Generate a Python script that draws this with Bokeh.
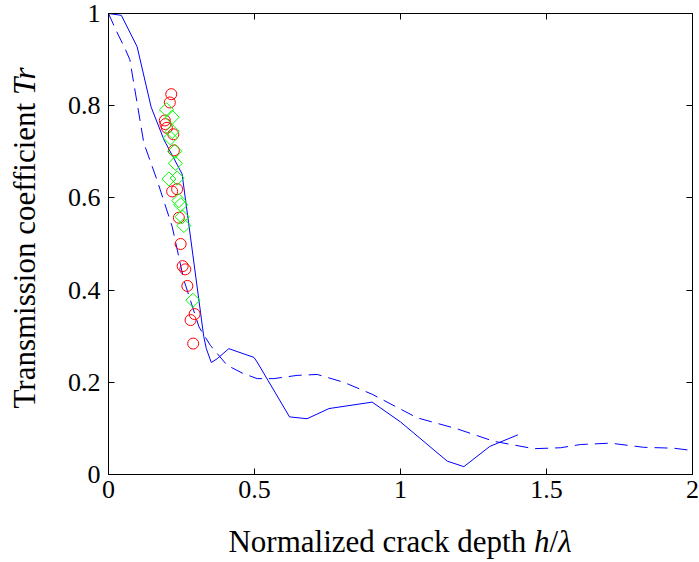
import numpy as np
from bokeh.plotting import figure
from bokeh.models import Range1d, LinearAxis, FixedTicker, Div
from bokeh.layouts import row, column
from bokeh.embed import file_html
from bokeh.resources import INLINE

# Solid curve (simulation A)
solid_x = [0.0, 0.044, 0.098, 0.146, 0.19, 0.252, 0.326, 0.335, 0.352, 0.372, 0.412,
           0.498, 0.509, 0.62, 0.68, 0.755, 0.903, 1.0, 1.16, 1.217, 1.306, 1.402]
solid_y = [1.0, 0.996, 0.928, 0.797, 0.726, 0.652, 0.30, 0.273, 0.243, 0.251, 0.273,
           0.254, 0.244, 0.125, 0.121, 0.143, 0.157, 0.114, 0.029, 0.017, 0.061, 0.086]

# Dashed curve (simulation B)
dash_x = [0.0, 0.027, 0.058, 0.073, 0.121, 0.166, 0.218, 0.258, 0.31, 0.349, 0.406,
          0.458, 0.509, 0.566, 0.646, 0.715, 0.806, 0.903, 1.057, 1.194, 1.32, 1.456,
          1.548, 1.616, 1.719, 1.833, 1.936, 2.0]
dash_y = [1.0, 0.962, 0.922, 0.9, 0.719, 0.639, 0.538, 0.422, 0.32, 0.28, 0.237,
          0.22, 0.208, 0.208, 0.215, 0.217, 0.2, 0.174, 0.123, 0.099, 0.072, 0.056,
          0.058, 0.065, 0.068, 0.059, 0.057, 0.052]

# Experimental points (circles)
circ_x = [0.215, 0.21, 0.193, 0.195, 0.2, 0.222, 0.224, 0.218, 0.235, 0.241, 0.247,
          0.254, 0.263, 0.27, 0.295, 0.281, 0.29]
circ_y = [0.825, 0.807, 0.768, 0.76, 0.752, 0.738, 0.703, 0.614, 0.619, 0.557, 0.5,
          0.452, 0.445, 0.409, 0.348, 0.335, 0.284]

# Experimental points (diamonds)
diam_x = [0.199, 0.218, 0.218, 0.212, 0.227, 0.229, 0.207, 0.235, 0.241, 0.247,
          0.252, 0.258, 0.289]
diam_y = [0.791, 0.775, 0.744, 0.73, 0.701, 0.675, 0.641, 0.643, 0.594, 0.585,
          0.559, 0.54, 0.378]

x_ticks = [0, 0.5, 1, 1.5, 2]
y_ticks = [0, 0.2, 0.4, 0.6, 0.8, 1]
x_label_html = "Normalized crack depth <i>h</i>/<i>&lambda;</i>"
y_label_html = "Transmission coefficient <i>Tr</i>"

FONT = "Liberation Serif"

p = figure(width=654, height=520, x_range=Range1d(0, 2), y_range=Range1d(0, 1),
           output_backend="svg", toolbar_location=None,
           min_border_left=63, min_border_right=7, min_border_top=13,
           min_border_bottom=46)
p.xgrid.visible = False
p.ygrid.visible = False
p.outline_line_color = "black"
p.outline_line_width = 1

def style_axis(ax, ticks, show_labels, standoff):
    ax.ticker = FixedTicker(ticks=ticks)
    ax.major_tick_in = 6
    ax.major_tick_out = 0
    ax.minor_tick_line_color = None
    ax.axis_line_color = "black"
    ax.major_tick_line_color = "black"
    ax.major_label_text_font = FONT
    ax.major_label_text_color = "black"
    ax.major_label_standoff = standoff
    if show_labels:
        ax.major_label_text_font_size = "26px"
    else:
        ax.major_label_text_font_size = "0px"
        ax.major_label_standoff = 0

style_axis(p.xaxis[0], x_ticks, True, 6)
style_axis(p.yaxis[0], y_ticks, True, 8)
top = LinearAxis()
right = LinearAxis()
p.add_layout(top, "above")
p.add_layout(right, "right")
style_axis(top, x_ticks, False, 0)
style_axis(right, y_ticks, False, 0)

p.line(solid_x, solid_y, line_color="#0000ff", line_width=1)
p.line(dash_x, dash_y, line_color="#0000ff", line_width=1, line_dash="13 7")
p.scatter(circ_x, circ_y, marker="circle", size=11, fill_color=None,
          line_color="#ff0000", line_width=1)
p.scatter(diam_x, diam_y, marker="square", angle=np.pi / 4, size=10, fill_color=None,
          line_color="#00ff00", line_width=1)

font_css = ("font-family: 'Liberation Serif', 'Times New Roman', serif; font-size: 31px; "
            "color: black; line-height: 30px; white-space: nowrap;")

xlab = Div(
    text=(f'<div style="{font_css} width: 584px; margin-left: 63px; padding-top: 7px; '
          f'text-align: center;">{x_label_html}</div>'),
    width=654, height=42, margin=0)

ylab = Div(
    text=(f'<div style="position: relative; width: 45px; height: 562px;">'
          f'<div style="{font_css} position: absolute; left: 25px; top: 238px; '
          f'transform: translate(-50%, -50%) rotate(-90deg);">{y_label_html}</div></div>'),
    width=45, height=562, margin=0)

layout = row(ylab, column(p, xlab, spacing=0, margin=0), spacing=0, margin=0)

open("out.html", "w").write(file_html(layout, INLINE))
